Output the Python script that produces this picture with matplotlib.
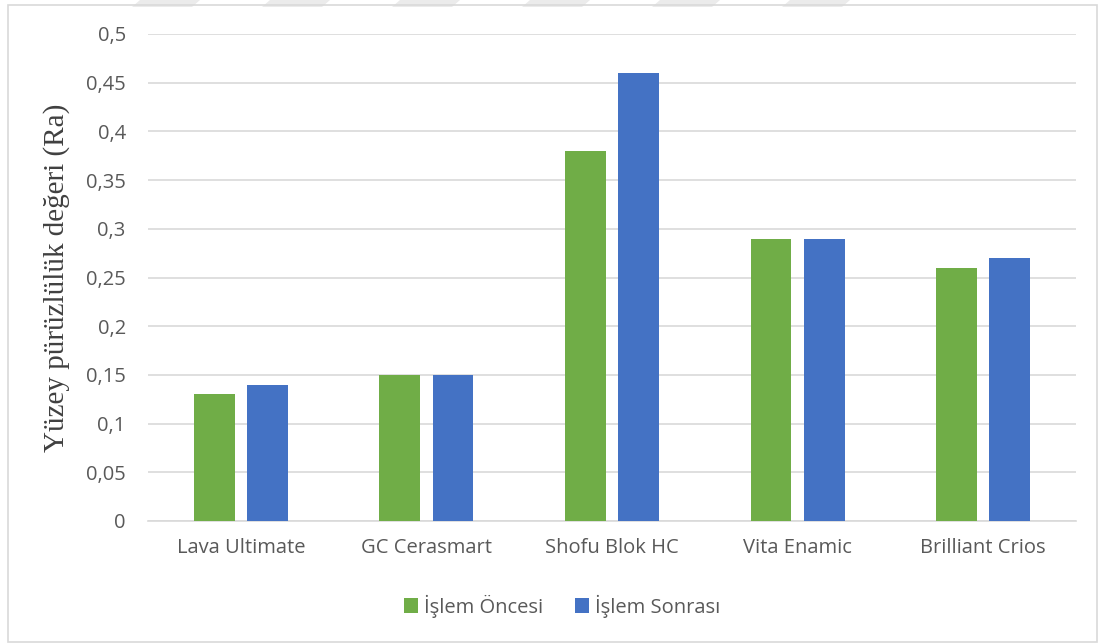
import numpy as np
import matplotlib.pyplot as plt
from matplotlib.patches import Rectangle, Polygon

categories = ["Lava Ultimate", "GC Cerasmart", "Shofu Blok HC", "Vita Enamic", "Brilliant Crios"]
islem_oncesi = [0.13, 0.15, 0.38, 0.29, 0.26]
islem_sonrasi = [0.14, 0.15, 0.46, 0.29, 0.27]
yticks = [0, 0.05, 0.1, 0.15, 0.2, 0.25, 0.3, 0.35, 0.4, 0.45, 0.5]
ytick_labels = ["0", "0,05", "0,1", "0,15", "0,2", "0,25", "0,3", "0,35", "0,4", "0,45", "0,5"]

green = "#70AD47"
blue = "#4472C4"
txt = "#595959"
grid_c = "#D9D9D9"

fig = plt.figure(figsize=(11.01, 6.44), dpi=100)
W, H = 1101, 644

# faint watermark stripes at the very top
for x0 in np.arange(140, 880, 130):
    fig.patches.append(Polygon([((x0) / W, 1), ((x0 + 60) / W, 1), ((x0 + 52) / W, 1 - 7 / H), ((x0 - 8) / W, 1 - 7 / H)],
                               closed=True, transform=fig.transFigure, facecolor="#EBEBEB", edgecolor="none", zorder=0))

# chart area border
fig.patches.append(Rectangle((8 / W, 2 / H), (1097 - 8) / W, (639 - 2) / H, transform=fig.transFigure,
                             fill=False, edgecolor="#D9D9D9", linewidth=1.2, zorder=1))

ax = fig.add_axes([148 / W, 1 - 521 / H, (1076 - 148) / W, (521 - 34) / H])
x = np.arange(len(categories))
w = 0.22
ax.bar(x - 0.143, islem_oncesi, w, color=green, label="İşlem Öncesi", zorder=3)
ax.bar(x + 0.143, islem_sonrasi, w, color=blue, label="İşlem Sonrası", zorder=3)

ax.set_xlim(-0.5, len(categories) - 0.5)
ax.set_ylim(0, 0.5)
ax.set_yticks(yticks)
ax.set_yticklabels(ytick_labels)
ax.set_xticks(x)
ax.set_xticklabels(categories)
ax.yaxis.grid(True, color=grid_c, linewidth=1.2, zorder=0)
for s in ["top", "right", "left"]:
    ax.spines[s].set_visible(False)
ax.spines["bottom"].set_color(grid_c)
ax.spines["bottom"].set_linewidth(1.2)
ax.tick_params(axis="both", length=0, colors=txt, labelsize=14.5)
ax.tick_params(axis="y", pad=16)
ax.tick_params(axis="x", pad=12)
for lab in ax.get_xticklabels() + ax.get_yticklabels():
    lab.set_family("Open Sans")

ax.set_ylabel("Yüzey pürüzlülük değeri (Ra)", family="Liberation Serif", fontsize=21, color="#404040")
ax.yaxis.set_label_coords(-0.084, 0.5)

fig.legend(loc="center", bbox_to_anchor=(562 / W, 1 - 606 / H), ncol=2, frameon=False,
           prop={"family": "Open Sans", "size": 14.5}, labelcolor=txt, handlelength=0.7, handleheight=0.7,
           handletextpad=0.3, columnspacing=1.6)

fig.savefig("out.png", dpi=100)
